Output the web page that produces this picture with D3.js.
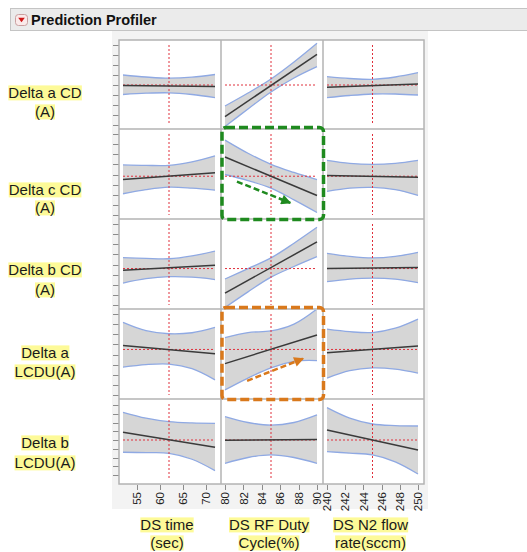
<!DOCTYPE html>
<html><head><meta charset="utf-8">
<script src="https://cdn.jsdelivr.net/npm/d3@7"></script>
<style>
body{margin:0;background:#fff;}
svg{display:block;font-family:"Liberation Sans",Arial,sans-serif;}
</style>
</head><body>
<svg id="chart" width="527" height="552"></svg>
<script>
// ---------------- data ----------------
const responseNames = [["Delta a CD","(A)"],["Delta c CD","(A)"],["Delta b CD","(A)"],["Delta a","LCDU(A)"],["Delta b","LCDU(A)"]];
const factorNames = [["DS time","(sec)"],["DS RF Duty","Cycle(%)"],["DS N2 flow","rate(sccm)"]];
const factorDomains = [[52,72],[80,90],[240,250]];
const factorTicks = [[55,60,65,70],[80,82,84,86,88,90],[240,242,244,246,248,250]];
const factorCurrent = [62,85,245];
const responseCurrent = [4.0,3.83,3.6,4.5,4.0];
const bandX = [[52,57,62,67,72],[80,82.5,85,87.5,90],[240,242.5,245,247.5,250]];
// predicted value at both ends of each factor range  [row][col] = [left, right]
const meanEnds = [
  [[3.95,3.85],[0.83,7.07],[3.77,4.10]],
  [[3.50,4.17],[5.73,1.93],[3.90,3.73]],
  [[3.43,3.93],[1.17,6.23],[3.60,3.70]],
  [[4.90,4.07],[3.10,5.93],[4.17,4.83]],
  [[4.88,3.16],[3.96,4.07],[5.14,2.86]]
];
// upper confidence curve at bandX points
const upperCI = [
  [[5.0,4.8,4.68,4.78,5.05],[1.9,3.2,4.6,6.3,8.17],[4.83,4.65,4.57,4.8,5.23]],
  [[4.95,4.9,4.9,5.25,5.85],[7.4,6.1,5.0,4.2,3.5],[5.4,5.1,5.0,5.1,5.4]],
  [[4.67,4.6,4.57,4.85,5.33],[2.57,3.6,4.65,6.1,7.67],[5.1,4.8,4.65,4.8,5.2]],
  [[7.17,6.35,6.05,6.15,6.67],[5.67,6.17,6.33,7.0,8.5],[6.5,6.25,6.17,6.6,7.5]],
  [[7.17,6.5,6.1,5.95,5.9],[6.67,6.0,5.7,6.0,6.86],[7.7,6.5,5.83,5.65,5.6]]
];
// lower confidence curve at bandX points
const lowerCI = [
  [[3.05,3.18,3.22,3.05,2.73],[-0.15,1.6,3.3,4.7,5.83],[2.73,2.95,3.1,3.1,3.0]],
  [[2.1,2.5,2.75,2.65,2.45],[4.0,3.4,2.65,1.5,0.25],[2.33,2.65,2.73,2.5,1.93]],
  [[2.17,2.6,2.8,2.75,2.5],[-0.25,1.3,2.75,3.8,4.77],[2.3,2.55,2.65,2.55,2.2]],
  [[2.75,3.0,3.05,2.6,1.5],[0.5,1.67,2.67,3.33,3.4],[1.67,2.4,2.67,2.55,2.17]],
  [[2.6,2.55,2.48,1.8,0.5],[1.33,2.0,2.29,2.0,1.33],[2.67,2.5,2.29,1.5,0.11]]
];
const yTickValues = [0,1,2,3,4,5,6,7,8];
// annotations: [row, col, from(x,y), to(x,y), color]
const annotations = [
  {row:1, col:1, from:[81.3,3.3], to:[87.1,1.2], color:"#1f8a1f"},
  {row:3, col:1, from:[82.4,1.4], to:[88.5,3.6], color:"#d9791c"}
];

// ---------------- layout ----------------
const svg = d3.select("#chart");
const colEdges = [119,221,323,424];
const rowEdges = [40,129,219,309,399,484];
const rowPads = [[5,4],[5,4],[5,4],[5,4],[6,9]];
const labelY = [[93,112],[190,208],[270,290],[353,372],[443,463]];

const xScales = factorDomains.map((d,i)=>d3.scaleLinear().domain(d).range([colEdges[i]+4, colEdges[i+1]-6]));
const yScales = rowPads.map((p,r)=>d3.scaleLinear().domain([0,8]).range([rowEdges[r+1]-p[1], rowEdges[r]+p[0]]));

// panel background
svg.append("rect").attr("x",112).attr("y",31).attr("width",316).attr("height",478).attr("fill","#f3f3f3");

// header
svg.append("rect").attr("x",10.5).attr("y",8.5).attr("width",530).attr("height",22)
  .attr("fill","#ebebeb").attr("stroke","#c4c4c4");
svg.append("rect").attr("x",15.5).attr("y",14.5).attr("width",12).attr("height",11).attr("rx",3)
  .attr("fill","#fbeaea").attr("stroke","#c9a0a0");
svg.append("path").attr("d","M18.2,17.8 L24.8,17.8 L21.5,22.3 Z").attr("fill","#d01818");
svg.append("text").attr("x",31).attr("y",25).attr("font-size","14.5px").attr("font-weight","bold")
  .attr("fill","#111").text("Prediction Profiler");

const defs = svg.append("defs");

responseNames.forEach((rn,r)=>{
  const y = yScales[r];
  factorDomains.forEach((fd,c)=>{
    const x = xScales[c];
    const x0 = colEdges[c], x1 = colEdges[c+1], y0 = rowEdges[r], y1 = rowEdges[r+1];
    const g = svg.append("g");
    g.append("rect").attr("x",x0).attr("y",y0).attr("width",x1-x0).attr("height",y1-y0).attr("fill","#fff");
    const cid = `clip-${r}-${c}`;
    defs.append("clipPath").attr("id",cid).append("rect").attr("x",x0+1).attr("y",y0+1).attr("width",x1-x0-2).attr("height",y1-y0-2);
    const cg = g.append("g").attr("clip-path",`url(#${cid})`);
    const pts = bandX[c].map((bx,i)=>({x:bx, u:upperCI[r][c][i], l:lowerCI[r][c][i]}));
    cg.append("path").datum(pts)
      .attr("d", d3.area().x(d=>x(d.x)).y0(d=>y(d.l)).y1(d=>y(d.u)).curve(d3.curveCatmullRom))
      .attr("fill","#d6d6d6");
    ["u","l"].forEach(k=>{
      cg.append("path").datum(pts)
        .attr("d", d3.line().x(d=>x(d.x)).y(d=>y(d[k])).curve(d3.curveCatmullRom))
        .attr("fill","none").attr("stroke","#8fa9e3").attr("stroke-width",1.3);
    });
    // reference lines
    cg.append("line").attr("x1",x(factorCurrent[c])).attr("x2",x(factorCurrent[c]))
      .attr("y1",y0+5).attr("y2",y1-4)
      .attr("stroke","#e0303c").attr("stroke-width",1).attr("stroke-dasharray","2,2");
    cg.append("line").attr("x1",x(fd[0])).attr("x2",x(fd[1]))
      .attr("y1",y(responseCurrent[r])).attr("y2",y(responseCurrent[r]))
      .attr("stroke","#e0303c").attr("stroke-width",1).attr("stroke-dasharray","2,2");
    // mean
    cg.append("line").attr("x1",x(fd[0])).attr("x2",x(fd[1]))
      .attr("y1",y(meanEnds[r][c][0])).attr("y2",y(meanEnds[r][c][1]))
      .attr("stroke","#3a3a3a").attr("stroke-width",1.5);
  });
  // y ticks
  svg.append("g").selectAll("line").data(yTickValues).join("line")
    .attr("x1",113).attr("x2",119).attr("y1",d=>Math.round(y(d))+0.5).attr("y2",d=>Math.round(y(d))+0.5)
    .attr("stroke","#8c8c8c").attr("stroke-width",1);
  // row label
  const lg = svg.append("g");
  rn.forEach((t,i)=>{
    const tx = lg.append("text").attr("x",45).attr("y",labelY[r][i]).attr("dy","0.36em")
      .attr("text-anchor","middle").attr("font-size","15px").attr("fill","#1a1a1a").text(t);
    const bb = tx.node().getBBox();
    lg.insert("rect","text").attr("x",bb.x).attr("y",bb.y+1).attr("width",bb.width).attr("height",bb.height-2).attr("fill","#fdfa98");
  });
});

// grid lines
const gridG = svg.append("g").attr("stroke","#b3b3b3").attr("stroke-width",1.5).attr("fill","none");
gridG.append("rect").attr("x",colEdges[0]).attr("y",rowEdges[0]).attr("width",colEdges[3]-colEdges[0]).attr("height",rowEdges[5]-rowEdges[0]);
colEdges.slice(1,3).forEach(cx=>gridG.append("line").attr("x1",cx).attr("x2",cx).attr("y1",rowEdges[0]).attr("y2",rowEdges[5]));
rowEdges.slice(1,5).forEach(ry=>gridG.append("line").attr("x1",colEdges[0]).attr("x2",colEdges[3]).attr("y1",ry).attr("y2",ry));

// x axes
factorDomains.forEach((fd,c)=>{
  const x = xScales[c];
  const ag = svg.append("g");
  ag.selectAll("line").data(factorTicks[c]).join("line")
    .attr("x1",d=>Math.round(x(d))+0.5).attr("x2",d=>Math.round(x(d))+0.5)
    .attr("y1",485).attr("y2",490).attr("stroke","#8c8c8c");
  ag.selectAll("text").data(factorTicks[c]).join("text")
    .attr("transform",d=>`translate(${x(d)},492) rotate(-90)`)
    .attr("text-anchor","end").attr("dy","0.36em").attr("font-size","11.5px").attr("fill","#222")
    .text(d=>d);
  const cx = (colEdges[c]+colEdges[c+1])/2 - 3;
  factorNames[c].forEach((t,i)=>{
    const tx = ag.append("text").attr("x",cx).attr("y",[525,543][i]).attr("dy","0.36em")
      .attr("text-anchor","middle").attr("font-size","15px").attr("fill","#1a1a1a").text(t);
    const bb = tx.node().getBBox();
    ag.insert("rect","text").attr("x",bb.x).attr("y",bb.y+1).attr("width",bb.width).attr("height",bb.height-2).attr("fill","#fdfa98");
  });
});

// annotations
annotations.forEach((a,i)=>{
  const x0 = colEdges[a.col], x1 = colEdges[a.col+1], y0 = rowEdges[a.row], y1 = rowEdges[a.row+1];
  svg.append("rect").attr("x",x0+1).attr("y",y0-1.5).attr("width",x1-x0-0.5).attr("height",y1-y0+2)
    .attr("rx",4).attr("fill","none").attr("stroke",a.color).attr("stroke-width",3.5).attr("stroke-dasharray","9,4");
  const mid = `arrow-${i}`;
  defs.append("marker").attr("id",mid).attr("viewBox","0 0 10 10").attr("refX",9).attr("refY",5)
    .attr("markerWidth",12).attr("markerHeight",10).attr("markerUnits","userSpaceOnUse").attr("orient","auto")
    .append("path").attr("d","M0,0 L10,5 L0,10 Z").attr("fill",a.color);
  const x = xScales[a.col], y = yScales[a.row];
  svg.append("line").attr("x1",x(a.from[0])).attr("y1",y(a.from[1])).attr("x2",x(a.to[0])).attr("y2",y(a.to[1]))
    .attr("stroke",a.color).attr("stroke-width",2.5).attr("stroke-dasharray","6,3").attr("marker-end",`url(#${mid})`);
});
</script>
</body></html>
